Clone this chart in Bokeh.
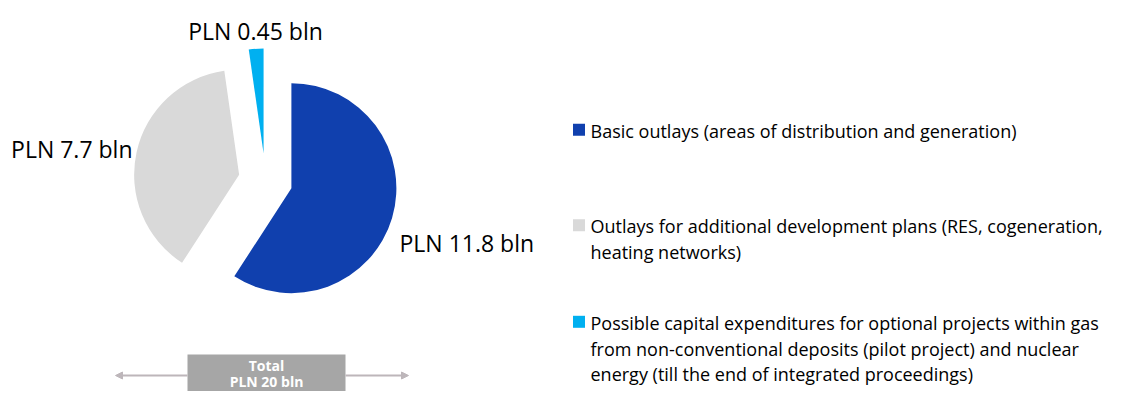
import numpy as np
from bokeh.plotting import figure
from bokeh.models import Range1d, Arrow, NormalHead, ColumnDataSource
from bokeh.core.properties import value
from bokeh.embed import file_html
from bokeh.resources import INLINE

# ---------------- data ----------------
categories = [
    "Basic outlays",
    "Outlays for additional development plans",
    "Possible capital expenditures for optional projects",
]
values = [11.8, 7.7, 0.45]
slice_labels = ["PLN 11.8 bln", "PLN 7.7 bln", "PLN 0.45 bln"]
legend_lines = [
    ["Basic outlays (areas of distribution and generation)"],
    ["Outlays for additional development plans (RES, cogeneration,",
     "heating networks)"],
    ["Possible capital expenditures for optional projects within gas",
     "from non-conventional deposits (pilot project) and nuclear",
     "energy (till the end of integrated proceedings)"],
]
total_lines = ["Total", "PLN 20 bln"]

# ---------------- style / layout ----------------
colors = ["#1040AE", "#D9D9D9", "#00B0F0"]
FONT = "Open Sans"
W, H = 1106, 391
cx, cy = 265.0, 180.0  # pie centre (px from top-left)
radius = 105.0
explode = 27.0
BASE_FIX = 0.38        # rendered baseline sits this many em below y

LAB_FS = 23
LEG_FS = 18
TOT_FS = 14

# label anchors (px, baseline), alignment
lab_x = [399, 132, 255]
lab_y = [251, 157, 39]
lab_align = ["left", "right", "center"]

# legend layout
leg_sq_x = 578.5
leg_txt_x = 590
leg_first_base = [137.3, 232.7, 329.3]
leg_line_h = 25.7
sq = 12

p = figure(width=W, height=H, output_backend="svg", toolbar_location=None,
           x_range=Range1d(0, W), y_range=Range1d(-H, 0),
           x_axis_type=None, y_axis_type=None, min_border=0,
           outline_line_color=None, background_fill_color="white",
           border_fill_color="white")
p.grid.visible = False


def ty(base, fs):
    return -(base - BASE_FIX * fs)


# ---------------- pie ----------------
vals = np.array(values, dtype=float)
frac = vals / vals.sum()
start = np.pi / 2 - 2 * np.pi * np.concatenate([[0], np.cumsum(frac)[:-1]])
end = start - 2 * np.pi * frac
mid = (start + end) / 2
px = cx + explode * np.cos(mid)
py = -cy + explode * np.sin(mid)
src = ColumnDataSource(dict(x=px, y=py, start=start, end=end, color=colors,
                            cat=categories))
p.wedge(x="x", y="y", radius=radius, start_angle="start", end_angle="end",
        direction="clock", fill_color="color", line_color=None, source=src)

for t, x, y, a in zip(slice_labels, lab_x, lab_y, lab_align):
    p.text(x=[x], y=[ty(y, LAB_FS)], text=[t], text_font=value(FONT),
           text_font_size=f"{LAB_FS}px", text_align=a,
           text_baseline="alphabetic", text_color="#000000")

# ---------------- legend ----------------
for lines, base, c in zip(legend_lines, leg_first_base, colors):
    p.rect(x=[leg_sq_x], y=[-(base - 8)], width=sq, height=sq,
           fill_color=c, line_color=None)
    for i, ln in enumerate(lines):
        p.text(x=[leg_txt_x], y=[ty(base + i * leg_line_h, LEG_FS)], text=[ln],
               text_font=value(FONT), text_font_size=f"{LEG_FS}px",
               text_align="left", text_baseline="alphabetic",
               text_color="#000000")

# ---------------- total box ----------------
box_l, box_r, box_t, box_b = 187, 345, 354, 420
arrow_y = 375
arr_col = "#BDB6BA"
p.add_layout(Arrow(end=NormalHead(size=7, fill_color=arr_col, line_color=arr_col),
                   x_start=box_l, y_start=-arrow_y, x_end=115, y_end=-arrow_y,
                   line_color=arr_col, line_width=2))
p.add_layout(Arrow(end=NormalHead(size=7, fill_color=arr_col, line_color=arr_col),
                   x_start=box_r, y_start=-arrow_y, x_end=408, y_end=-arrow_y,
                   line_color=arr_col, line_width=2))
p.quad(left=[box_l], right=[box_r], top=[-box_t], bottom=[-box_b],
       fill_color="#A6A6A6", line_color=None)
tot_base = [370, 386]
for t, b in zip(total_lines, tot_base):
    p.text(x=[(box_l + box_r) / 2], y=[ty(b, TOT_FS)], text=[t],
           text_font=value(FONT), text_font_size=f"{TOT_FS}px",
           text_font_style="bold", text_align="center",
           text_baseline="alphabetic", text_color="white")

open("out.html", "w").write(file_html(p, INLINE))
